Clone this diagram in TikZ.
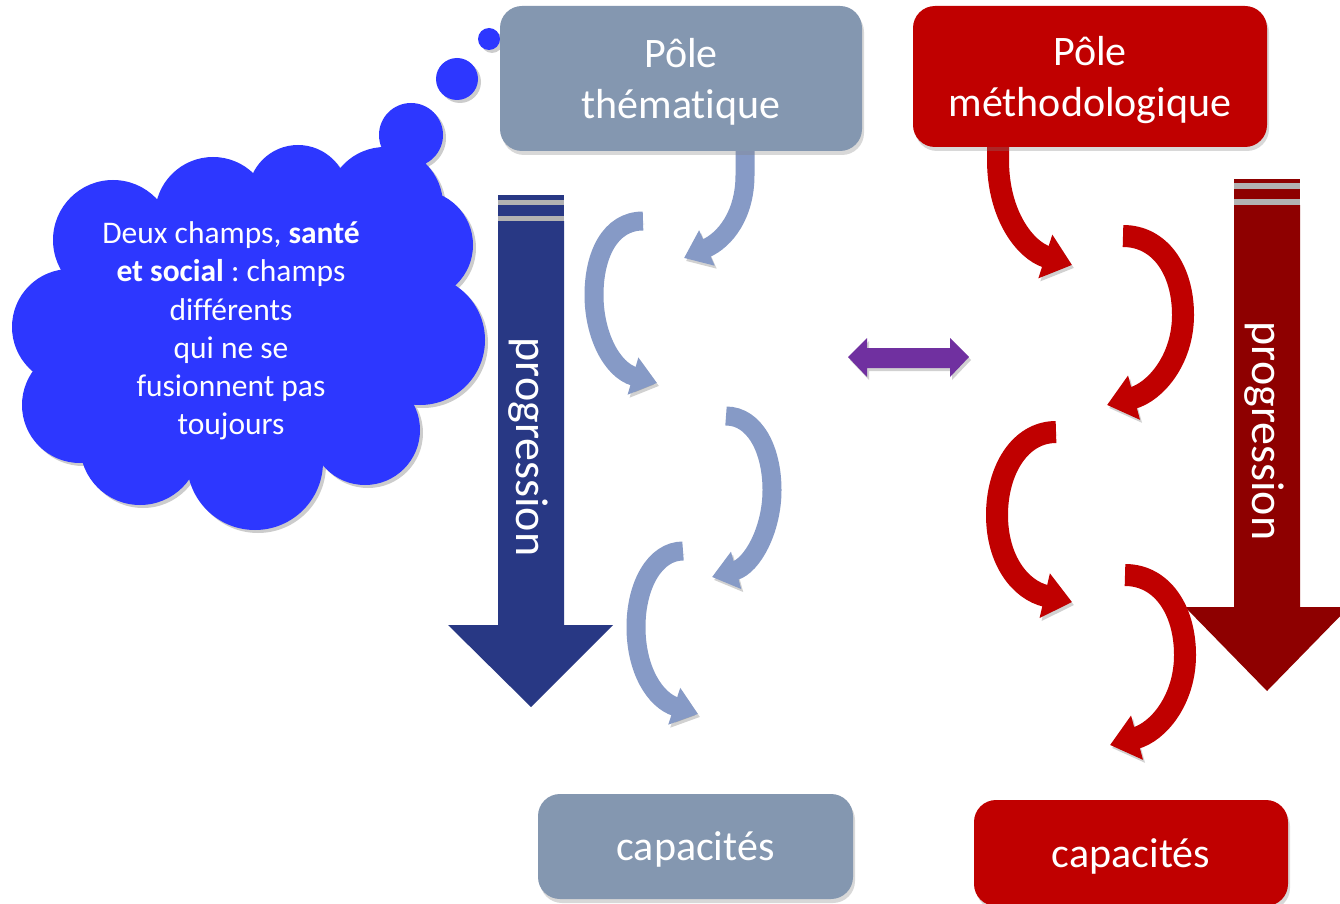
\documentclass[tikz,border=0pt]{standalone}
\usepackage{fontspec}
\setmainfont{Carlito}[Ligatures=NoCommon]
\usetikzlibrary{arrows.meta,shadows}
\definecolor{slate}{RGB}{132,151,176}
\definecolor{slatearrow}{RGB}{134,154,198}
\definecolor{navy}{RGB}{40,56,132}
\definecolor{pred}{RGB}{192,0,0}
\definecolor{dred}{RGB}{142,0,0}
\definecolor{purp}{RGB}{112,48,160}
\definecolor{cloudblue}{RGB}{45,55,255}
\frenchspacing
\begin{document}
\begin{tikzpicture}[x=1pt,y=-1pt,
  box/.style={rounded corners=22pt, text=white, align=center, inner sep=0pt,
    text depth=0pt, font=\fontsize{42}{51}\selectfont,
    drop shadow={opacity=0.3,shadow xshift=2pt,shadow yshift=-4pt}},
  slatecurve/.style={draw=slatearrow, line width=19pt, -{Triangle[width=37pt,length=25pt]},
    preaction={draw=black, opacity=0.18, transform canvas={xshift=2pt,yshift=-3pt}}},
  redcurve/.style={draw=pred, line width=22pt, -{Triangle[width=44pt,length=28pt]},
    preaction={draw=black, opacity=0.18, transform canvas={xshift=2pt,yshift=-3pt}}},
  progtext/.style={text=white, rotate=-90, inner sep=0pt, font=\fontsize{46}{46}\selectfont},
  gapband/.style={fill=black!30},
]
\useasboundingbox (0,0) rectangle (1340,904);
\fill[white] (0,0) rectangle (1340,904);
\clip (0,0) rectangle (1340,904);

% ---------- thought cloud ----------
\foreach \s/\c/\o in {3/black/0.2, 0/cloudblue/1} {
  \fill[\c, fill opacity=\o, shift={(\s,\s)}]
    (250,335) ellipse[x radius=180, y radius=140]
    (113,240) circle[radius=60]
    (213,215) circle[radius=58]
    (298,195) circle[radius=50]
    (385,205) circle[radius=58]
    (418,245) circle[radius=55]
    (420,340) circle[radius=65]
    (365,430) circle[radius=55]
    (255,462) circle[radius=68]
    (140,445) circle[radius=60]
    (80,405) circle[radius=58]
    (70,327) circle[radius=58]
    (411,135) circle[radius=32]
    (457,79) circle[radius=21]
    (489,39) circle[radius=11];
}
\node[text=white, align=center, inner sep=0pt, font=\fontsize{31.5}{38.3}\selectfont]
  (cloudtext) at (231,331)
  {Deux champs, \textbf{santé}\\\textbf{et social} : champs\\différents\\qui ne se\\fusionnent pas\\toujours};

% ---------- big progression arrows ----------
\fill[navy] (498,221) -- (564,221) -- (564,625) -- (613,625) -- (531,707) -- (448,625) -- (498,625) -- cycle;
\fill[navy] (498,195) rectangle (564,200);
\fill[gapband] (498,200) rectangle (564,205);
\fill[navy] (498,205) rectangle (564,216);
\fill[gapband] (498,216) rectangle (564,221);
\node[progtext] (progL) at (528,447) {progression};

\fill[dred] (1234,205) -- (1300,205) -- (1300,607) -- (1349,607) -- (1267,691) -- (1185,607) -- (1234,607) -- cycle;
\fill[dred] (1234,179) rectangle (1300,183);
\fill[gapband] (1234,183) rectangle (1300,189);
\fill[dred] (1234,189) rectangle (1300,199);
\fill[gapband] (1234,199) rectangle (1300,205);
\node[progtext] (progR) at (1264,431) {progression};

% ---------- curved arrows (blue) ----------
\coordinate (a1s) at (745,140);
\coordinate (a1e) at (684,258);
\draw[slatecurve] (a1s) -- (745,175) .. controls (745,215) and (725,240) .. (a1e);
\coordinate (a2s) at (643,221);
\coordinate (a2e) at (657,383);
\draw[slatecurve] (a2s) .. controls (610,221) and (594,255) .. (594,295)
  .. controls (594,335) and (612,370) .. (a2e);
\coordinate (a3s) at (726,416);
\coordinate (a3e) at (712,577);
\draw[slatecurve] (a3s) .. controls (755,416) and (772,450) .. (772,490)
  .. controls (772,530) and (752,566) .. (a3e);
\coordinate (a4s) at (683,551);
\coordinate (a4e) at (698,714);
\draw[slatecurve] (a4s) .. controls (655,551) and (636,585) .. (636,627)
  .. controls (636,670) and (655,700) .. (a4e);

% ---------- curved arrows (red) ----------
\coordinate (r1s) at (998,140);
\coordinate (r1e) at (1072,265);
\draw[redcurve] (r1s) -- (998,160) .. controls (998,215) and (1025,250) .. (r1e);
\coordinate (r2s) at (1123,236);
\coordinate (r2e) at (1107,405);
\draw[redcurve] (r2s) .. controls (1160,236) and (1183,270) .. (1183,315)
  .. controls (1183,360) and (1155,392) .. (r2e);
\coordinate (r3s) at (1056,432);
\coordinate (r3e) at (1072,602);
\draw[redcurve] (r3s) .. controls (1020,432) and (997,470) .. (997,515)
  .. controls (997,560) and (1020,590) .. (r3e);
\coordinate (r4s) at (1125,575);
\coordinate (r4e) at (1110,745);
\draw[redcurve] (r4s) .. controls (1162,575) and (1185,610) .. (1185,655)
  .. controls (1185,700) and (1158,732) .. (r4e);

% ---------- boxes ----------
\node[box, fill=slate, minimum width=362pt, minimum height=145pt] (pt) at (681,78.5) {Pôle\\thématique};
\node[box, fill=pred, minimum width=354pt, minimum height=141pt] (pm) at (1090,76.5) {Pôle\\méthodologique};
\node[box, fill=slate, minimum width=315pt, minimum height=105pt] (cl) at (695.5,846.5) {capacités};
\node[box, fill=pred, minimum width=314pt, minimum height=106pt] (cr) at (1131,853) {capacités};

% ---------- purple double arrow ----------
\fill[black, opacity=0.18, shift={(2,3)}]
  (848,357) -- (867,338) -- (867,348) -- (950,348) -- (950,338) -- (969,357)
  -- (950,377) -- (950,368) -- (867,368) -- (867,377) -- cycle;
\fill[purp] (848,357) -- (867,338) -- (867,348) -- (950,348) -- (950,338) -- (969,357)
  -- (950,377) -- (950,368) -- (867,368) -- (867,377) -- cycle;
\end{tikzpicture}
\end{document}
